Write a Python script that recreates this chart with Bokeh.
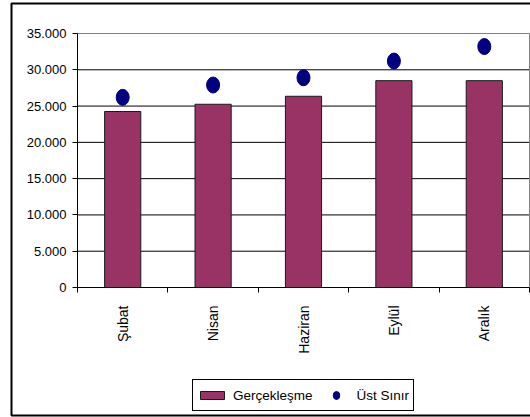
import math
from bokeh.plotting import figure
from bokeh.models import (ColumnDataSource, FixedTicker, Legend, LegendItem,
                          BoxAnnotation)
from bokeh.embed import file_html
from bokeh.resources import INLINE

# Monthly values
months = ["Şubat", "Nisan", "Haziran", "Eylül", "Aralık"]
gerceklesme = [24250, 25250, 26350, 28500, 28500]
ust_sinir = [26200, 27900, 28900, 31200, 33200]

# Value axis
y_ticks = [0, 5000, 10000, 15000, 20000, 25000, 30000, 35000]
y_tick_labels = ["0", "5.000", "10.000", "15.000", "20.000", "25.000", "30.000", "35.000"]

W, H = 530, 417
# plot area inside the canvas (pixels)
PA_LEFT, PA_RIGHT, PA_TOP, PA_BOTTOM = 77, 529, 33, 287

n = len(months)
y_max = y_ticks[-1]
px_per_x = (PA_RIGHT - PA_LEFT) / n
px_per_y = (PA_BOTTOM - PA_TOP) / y_max
x_range = (-PA_LEFT / px_per_x, (W - PA_LEFT) / px_per_x)
y_range = (-(H - PA_BOTTOM) / px_per_y, PA_BOTTOM / px_per_y)

x_pos = [i + 0.5 for i in range(n)]
src = ColumnDataSource(dict(x=x_pos, month=months, actual=gerceklesme, limit=ust_sinir))

p = figure(width=W, height=H, output_backend="svg", toolbar_location=None,
           x_range=x_range, y_range=y_range, min_border=0,
           min_border_left=0, min_border_right=0, min_border_top=0,
           min_border_bottom=0)
p.title.visible = False
p.background_fill_color = "white"
p.border_fill_color = "white"
p.outline_line_color = None
p.xgrid.visible = False
p.ygrid.visible = False

# horizontal gridlines across the plot area
grid_y = y_ticks[1:-1]
p.segment(x0=[0] * len(grid_y), x1=[n] * len(grid_y), y0=grid_y, y1=grid_y,
          line_color="black", line_width=1)
# plot-area border (top and right)
p.segment(x0=[0, n], x1=[n, n], y0=[y_max, 0], y1=[y_max, y_max],
          line_color="#808080", line_width=1)

bars = p.vbar(x="x", top="actual", width=0.4, source=src,
              fill_color="#993366", line_color="#1a1a1a", line_width=1)
dots = p.ellipse(x="x", y="limit", width=13, height=16,
                 width_units="screen", height_units="screen", source=src,
                 fill_color="#000080", line_color="#000080")

# Y axis, pinned at x = 0
p.yaxis.fixed_location = 0
p.yaxis.bounds = (0, y_max)
p.yaxis.ticker = FixedTicker(ticks=y_ticks)
p.yaxis.major_label_overrides = dict(zip(y_ticks, y_tick_labels))
p.yaxis.major_label_text_font = "Liberation Sans"
p.yaxis.major_label_text_font_size = "13px"
p.yaxis.major_label_text_color = "black"
p.yaxis.major_tick_in = 0
p.yaxis.major_tick_out = 5
p.yaxis.minor_tick_line_color = None
p.yaxis.axis_line_color = "black"
p.yaxis.major_tick_line_color = "black"
p.yaxis.major_label_standoff = 6

# X axis, pinned at y = 0: labels at category centres, ticks on boundaries
p.xaxis.fixed_location = 0
p.xaxis.bounds = (0, n)
p.xaxis.ticker = FixedTicker(ticks=x_pos, minor_ticks=list(range(n + 1)))
p.xaxis.major_label_overrides = dict(zip(x_pos, months))
p.xaxis.major_label_orientation = math.pi / 2
p.xaxis.major_label_text_font = "Liberation Sans"
p.xaxis.major_label_text_font_size = "14px"
p.xaxis.major_label_text_color = "black"
p.xaxis.major_tick_line_color = None
p.xaxis.minor_tick_in = 0
p.xaxis.minor_tick_out = 5
p.xaxis.minor_tick_line_color = "black"
p.xaxis.axis_line_color = "black"
p.xaxis.major_label_standoff = 12

# Chart border
p.add_layout(BoxAnnotation(left=11, right=W + 10, top=3, bottom=415,
                           left_units="canvas", right_units="canvas",
                           top_units="canvas", bottom_units="canvas",
                           fill_color=None, fill_alpha=0,
                           line_color="black", line_alpha=1, line_width=2))

legend = Legend(items=[LegendItem(label="Gerçekleşme", renderers=[bars]),
                       LegendItem(label="Üst Sınır", renderers=[dots])],
                orientation="horizontal", location=(192, 6),
                glyph_width=30, glyph_height=10, label_standoff=6, spacing=8,
                padding=4, margin=0, label_height=22,
                label_text_font="Liberation Sans", label_text_font_size="13.5px",
                label_text_color="black",
                border_line_color="black", border_line_alpha=1, border_line_width=1,
                background_fill_color="white", background_fill_alpha=1)
p.add_layout(legend, "center")

open("out.html", "w").write(file_html(p, INLINE))
